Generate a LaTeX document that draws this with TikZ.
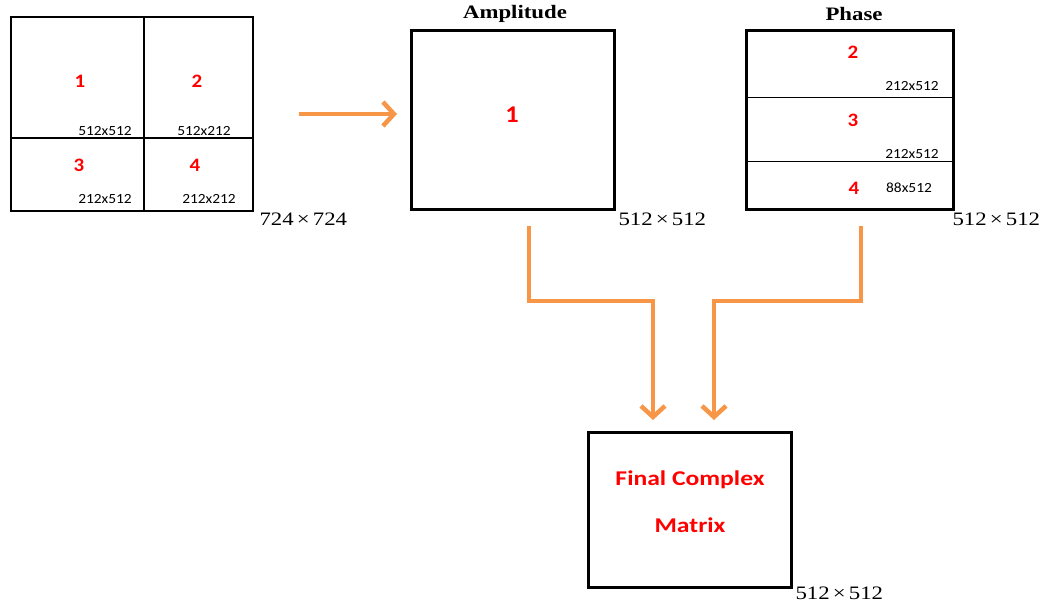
\documentclass[tikz,border=0pt]{standalone}
\usepackage{fontspec}
\setmainfont{Liberation Serif}[FakeStretch=1.2]
\setsansfont{Carlito}[FakeStretch=1.22]
\newfontfamily\smallsans{Carlito}[FakeStretch=1.1]
\usetikzlibrary{arrows.meta}
\definecolor{flowor}{RGB}{247,150,70}
\definecolor{lblred}{RGB}{255,0,0}
\begin{document}
\begin{tikzpicture}[x=1pt,y=-1pt,
  box/.style={draw, line width=3pt, inner sep=0pt},
  num/.style={text=lblred, font=\smallsans\bfseries\fontsize{19}{21}\selectfont},
  bignum/.style={text=lblred, font=\smallsans\bfseries\fontsize{24}{26}\selectfont},
  dimtext/.style={font=\smallsans\fontsize{14}{16}\selectfont},
  sizetext/.style={anchor=west, font=\fontsize{19}{22}\selectfont},
  titletext/.style={font=\bfseries\fontsize{19}{22}\selectfont},
  bigred/.style={text=lblred, font=\sffamily\bfseries\fontsize{21}{24}\selectfont},
  flow/.style={draw=flowor, line width=4.5pt,
    -{Straight Barb[length=11pt,width=24pt]}}]
\useasboundingbox (0,0) rectangle (1047,607);

% 724x724 input split into four blocks
\node[draw, line width=1.2pt, minimum width=242pt, minimum height=194pt, inner sep=0pt] (grid) at (132,114) {};
\draw[line width=2pt] (144,17) -- (144,211);
\draw[line width=2pt] (11,138) -- (253,138);
\node[num] (g1) at (80,81) {1};
\node[num] (g2) at (197,81) {2};
\node[num] (g3) at (79,165) {3};
\node[num] (g4) at (195,165) {4};
\node[dimtext] (d1) at (105,131) {512x512};
\node[dimtext] (d2) at (204,131) {512x212};
\node[dimtext] (d3) at (105,199) {212x512};
\node[dimtext] (d4) at (209,199) {212x212};
\node[sizetext] (gsize) at (256,219) {724\,×\,724};

% amplitude block
\node[box, minimum width=203pt, minimum height=179pt] (amp) at (513,120) {};
\node[titletext] (amptitle) at (515,14) {Amplitude};
\node[bignum] (a1) at (512,115) {1};
\node[sizetext] (asize) at (615,219) {512\,×\,512};

% phase block with three stacked parts
\node[box, minimum width=207pt, minimum height=179pt] (phase) at (850,120) {};
\draw[line width=1pt] (746,98) -- (954,98);
\draw[line width=1pt] (746,162) -- (954,162);
\node[titletext] (phtitle) at (854,14) {Phase};
\node[num] (p2) at (853,52) {2};
\node[num] (p3) at (853,120) {3};
\node[num] (p4) at (854,188) {4};
\node[dimtext] (pd2) at (912,86) {212x512};
\node[dimtext] (pd3) at (912,154) {212x512};
\node[dimtext] (pd4) at (909,188) {88x512};
\node[sizetext] (psize) at (949,219) {512\,×\,512};

% combined result
\node[box, minimum width=203pt, minimum height=155pt] (fin) at (690,510) {};
\node[bigred] (fl1) at (690,480) {Final Complex};
\node[bigred] (fl2) at (690,525) {Matrix};
\node[sizetext] (fsize) at (792,593) {512\,×\,512};

% connectors
\draw[flow] ([xshift=45pt]grid.east) -- ([xshift=-13pt,yshift=6pt]amp.west);
\draw[flow]
  ([xshift=16pt,yshift=-15pt]amp.south) -- ++(0,75) -| ([xshift=-37pt,yshift=11pt]fin.north);
\draw[flow]
  ([xshift=11pt,yshift=-15pt]phase.south) -- ++(0,75) -| ([xshift=24pt,yshift=11pt]fin.north);
\end{tikzpicture}
\end{document}
